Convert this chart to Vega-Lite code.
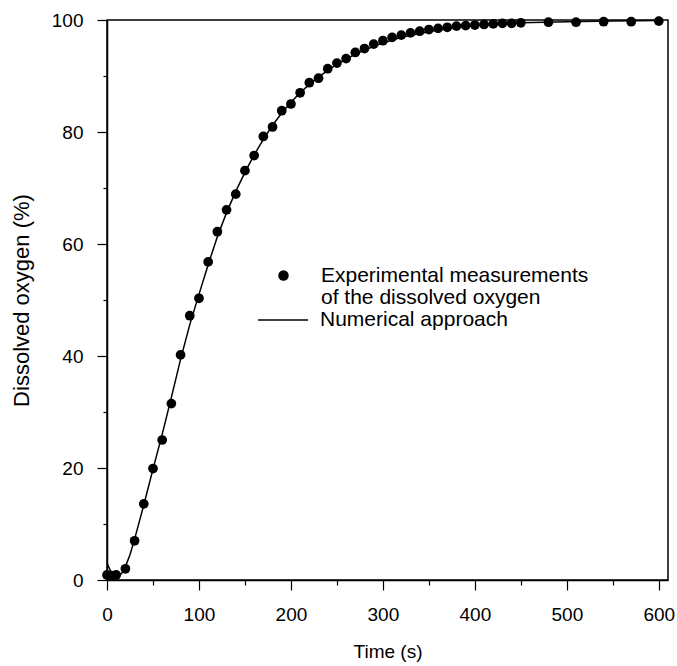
{
  "$schema": "https://vega.github.io/schema/vega-lite/v6.json",
  "width": 561,
  "height": 560,
  "autosize": {"type": "none"},
  "padding": {"left": 107, "top": 20, "right": 9, "bottom": 86},
  "background": "white",
  "config": {
    "font": "Liberation Sans",
    "view": {"stroke": "black", "strokeWidth": 1.5},
    "axis": {
      "grid": false,
      "domainColor": "black",
      "domainWidth": 1.5,
      "tickColor": "black",
      "tickWidth": 1.2,
      "labelColor": "black",
      "titleColor": "black",
      "titleFontWeight": "normal",
      "labelFlush": false,
      "labelOverlap": false
    },
    "legend": {"padding": 0, "titlePadding": 0, "labelLimit": 500}
  },
  "datasets": {
    "measured": [
      {"time": 0, "oxygen": 0.9, "series": "Experimental measurements"},
      {"time": 5, "oxygen": 0.8, "series": "Experimental measurements"},
      {"time": 10, "oxygen": 0.9, "series": "Experimental measurements"},
      {"time": 20, "oxygen": 2.0, "series": "Experimental measurements"},
      {"time": 30, "oxygen": 7.0, "series": "Experimental measurements"},
      {"time": 40, "oxygen": 13.6, "series": "Experimental measurements"},
      {"time": 50, "oxygen": 19.9, "series": "Experimental measurements"},
      {"time": 60, "oxygen": 25.0, "series": "Experimental measurements"},
      {"time": 70, "oxygen": 31.5, "series": "Experimental measurements"},
      {"time": 80, "oxygen": 40.2, "series": "Experimental measurements"},
      {"time": 90, "oxygen": 47.2, "series": "Experimental measurements"},
      {"time": 100, "oxygen": 50.3, "series": "Experimental measurements"},
      {"time": 110, "oxygen": 56.8, "series": "Experimental measurements"},
      {"time": 120, "oxygen": 62.2, "series": "Experimental measurements"},
      {"time": 130, "oxygen": 66.1, "series": "Experimental measurements"},
      {"time": 140, "oxygen": 68.9, "series": "Experimental measurements"},
      {"time": 150, "oxygen": 73.1, "series": "Experimental measurements"},
      {"time": 160, "oxygen": 75.8, "series": "Experimental measurements"},
      {"time": 170, "oxygen": 79.2, "series": "Experimental measurements"},
      {"time": 180, "oxygen": 80.9, "series": "Experimental measurements"},
      {"time": 190, "oxygen": 83.8, "series": "Experimental measurements"},
      {"time": 200, "oxygen": 85.0, "series": "Experimental measurements"},
      {"time": 210, "oxygen": 87.0, "series": "Experimental measurements"},
      {"time": 220, "oxygen": 88.8, "series": "Experimental measurements"},
      {"time": 230, "oxygen": 89.6, "series": "Experimental measurements"},
      {"time": 240, "oxygen": 91.3, "series": "Experimental measurements"},
      {"time": 250, "oxygen": 92.3, "series": "Experimental measurements"},
      {"time": 260, "oxygen": 93.1, "series": "Experimental measurements"},
      {"time": 270, "oxygen": 94.2, "series": "Experimental measurements"},
      {"time": 280, "oxygen": 94.9, "series": "Experimental measurements"},
      {"time": 290, "oxygen": 95.7, "series": "Experimental measurements"},
      {"time": 300, "oxygen": 96.3, "series": "Experimental measurements"},
      {"time": 310, "oxygen": 96.9, "series": "Experimental measurements"},
      {"time": 320, "oxygen": 97.3, "series": "Experimental measurements"},
      {"time": 330, "oxygen": 97.7, "series": "Experimental measurements"},
      {"time": 340, "oxygen": 98.0, "series": "Experimental measurements"},
      {"time": 350, "oxygen": 98.3, "series": "Experimental measurements"},
      {"time": 360, "oxygen": 98.5, "series": "Experimental measurements"},
      {"time": 370, "oxygen": 98.7, "series": "Experimental measurements"},
      {"time": 380, "oxygen": 98.9, "series": "Experimental measurements"},
      {"time": 390, "oxygen": 99.0, "series": "Experimental measurements"},
      {"time": 400, "oxygen": 99.1, "series": "Experimental measurements"},
      {"time": 410, "oxygen": 99.2, "series": "Experimental measurements"},
      {"time": 420, "oxygen": 99.3, "series": "Experimental measurements"},
      {"time": 430, "oxygen": 99.4, "series": "Experimental measurements"},
      {"time": 440, "oxygen": 99.4, "series": "Experimental measurements"},
      {"time": 450, "oxygen": 99.5, "series": "Experimental measurements"},
      {"time": 480, "oxygen": 99.6, "series": "Experimental measurements"},
      {"time": 510, "oxygen": 99.6, "series": "Experimental measurements"},
      {"time": 540, "oxygen": 99.7, "series": "Experimental measurements"},
      {"time": 570, "oxygen": 99.7, "series": "Experimental measurements"},
      {"time": 600, "oxygen": 99.8, "series": "Experimental measurements"}
    ],
    "model": [
      {"time": 0, "oxygen": 3.0, "series": "Numerical approach"},
      {"time": 4, "oxygen": 1.6, "series": "Numerical approach"},
      {"time": 8, "oxygen": 0.7, "series": "Numerical approach"},
      {"time": 12, "oxygen": 0.6, "series": "Numerical approach"},
      {"time": 16, "oxygen": 1.2, "series": "Numerical approach"},
      {"time": 20, "oxygen": 2.4, "series": "Numerical approach"},
      {"time": 25, "oxygen": 4.5, "series": "Numerical approach"},
      {"time": 30, "oxygen": 7.3, "series": "Numerical approach"},
      {"time": 40, "oxygen": 13.4, "series": "Numerical approach"},
      {"time": 50, "oxygen": 19.8, "series": "Numerical approach"},
      {"time": 60, "oxygen": 26.0, "series": "Numerical approach"},
      {"time": 70, "oxygen": 32.6, "series": "Numerical approach"},
      {"time": 80, "oxygen": 39.4, "series": "Numerical approach"},
      {"time": 90, "oxygen": 45.6, "series": "Numerical approach"},
      {"time": 100, "oxygen": 51.0, "series": "Numerical approach"},
      {"time": 110, "oxygen": 56.3, "series": "Numerical approach"},
      {"time": 120, "oxygen": 61.3, "series": "Numerical approach"},
      {"time": 130, "oxygen": 65.6, "series": "Numerical approach"},
      {"time": 140, "oxygen": 69.4, "series": "Numerical approach"},
      {"time": 150, "oxygen": 72.8, "series": "Numerical approach"},
      {"time": 160, "oxygen": 75.9, "series": "Numerical approach"},
      {"time": 170, "oxygen": 78.7, "series": "Numerical approach"},
      {"time": 180, "oxygen": 81.2, "series": "Numerical approach"},
      {"time": 190, "oxygen": 83.4, "series": "Numerical approach"},
      {"time": 200, "oxygen": 85.3, "series": "Numerical approach"},
      {"time": 210, "oxygen": 87.0, "series": "Numerical approach"},
      {"time": 220, "oxygen": 88.5, "series": "Numerical approach"},
      {"time": 230, "oxygen": 89.8, "series": "Numerical approach"},
      {"time": 240, "oxygen": 91.0, "series": "Numerical approach"},
      {"time": 250, "oxygen": 92.1, "series": "Numerical approach"},
      {"time": 260, "oxygen": 93.0, "series": "Numerical approach"},
      {"time": 270, "oxygen": 93.9, "series": "Numerical approach"},
      {"time": 280, "oxygen": 94.6, "series": "Numerical approach"},
      {"time": 290, "oxygen": 95.3, "series": "Numerical approach"},
      {"time": 300, "oxygen": 95.9, "series": "Numerical approach"},
      {"time": 320, "oxygen": 96.9, "series": "Numerical approach"},
      {"time": 340, "oxygen": 97.6, "series": "Numerical approach"},
      {"time": 360, "oxygen": 98.2, "series": "Numerical approach"},
      {"time": 380, "oxygen": 98.6, "series": "Numerical approach"},
      {"time": 400, "oxygen": 99.0, "series": "Numerical approach"},
      {"time": 425, "oxygen": 99.3, "series": "Numerical approach"},
      {"time": 450, "oxygen": 99.5, "series": "Numerical approach"},
      {"time": 500, "oxygen": 99.7, "series": "Numerical approach"},
      {"time": 550, "oxygen": 99.8, "series": "Numerical approach"},
      {"time": 600, "oxygen": 99.9, "series": "Numerical approach"}
    ]
  },
  "encoding": {
    "x": {
      "field": "time",
      "type": "quantitative",
      "scale": {"domain": [0, 610], "nice": false, "zero": false},
      "axis": {
        "title": "Time (s)",
        "values": [0, 50, 100, 150, 200, 250, 300, 350, 400, 450, 500, 550, 600],
        "labelExpr": "datum.value % 100 === 0 ? datum.label : ''",
        "tickSize": {"condition": {"test": "datum.value % 100 === 0", "value": 10}, "value": 5},
        "labelFontSize": 19,
        "titleFontSize": 19,
        "labelPadding": 15,
        "titlePadding": 18
      }
    },
    "y": {
      "field": "oxygen",
      "type": "quantitative",
      "scale": {"domain": [0, 100], "nice": false},
      "axis": {
        "title": "Dissolved oxygen (%)",
        "values": [0, 10, 20, 30, 40, 50, 60, 70, 80, 90, 100],
        "labelExpr": "datum.value % 20 === 0 ? datum.label : ''",
        "tickSize": {"condition": {"test": "datum.value % 20 === 0", "value": 10}, "value": 4},
        "labelFontSize": 19,
        "titleFontSize": 22,
        "labelPadding": 14,
        "titlePadding": 18
      }
    }
  },
  "layer": [
    {
      "data": {"name": "model"},
      "mark": {"type": "line", "strokeWidth": 1.5},
      "encoding": {
        "color": {
          "field": "series",
          "type": "nominal",
          "scale": {"range": ["black"]},
          "legend": {
            "orient": "none",
            "legendX": 150,
            "legendY": 274,
            "title": null,
            "symbolType": "stroke",
            "symbolSize": 2500,
            "symbolStrokeWidth": 1.5,
            "symbolStrokeColor": "black",
            "labelFontSize": 21,
            "labelColor": "black",
            "labelOffset": 11
          }
        }
      }
    },
    {
      "data": {"name": "measured"},
      "mark": {"type": "point", "filled": true, "color": "black", "opacity": 1, "size": 95},
      "encoding": {
        "shape": {
          "field": "series",
          "type": "nominal",
          "scale": {
            "domain": ["Experimental measurements", "of the dissolved oxygen"],
            "range": ["circle", "M0,0"]
          },
          "legend": {
            "orient": "none",
            "legendX": 166,
            "legendY": 245,
            "title": null,
            "symbolSize": 110,
            "symbolFillColor": "black",
            "symbolStrokeColor": "black",
            "symbolOpacity": 1,
            "labelFontSize": 21,
            "labelColor": "black",
            "labelOffset": 27,
            "rowPadding": 0
          }
        }
      }
    }
  ]
}
